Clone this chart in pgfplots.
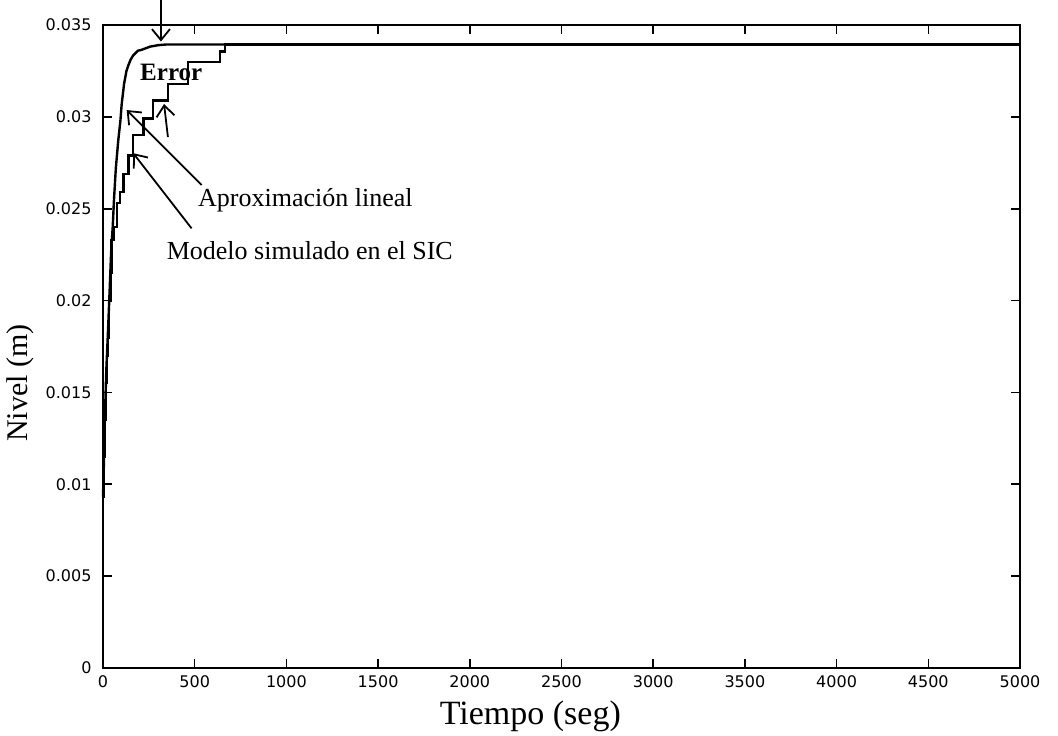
\documentclass[border=0pt]{standalone}
\usepackage{fontspec}
\setmainfont{Liberation Serif}
\newfontfamily\tickfont{DejaVu Sans}
\usepackage{pgfplots}
\pgfplotsset{compat=1.18}
\usetikzlibrary{arrows.meta}

\pgfplotstableread{
t v
0 0.0093
5 0.0112
10 0.0135
18 0.0162
28 0.0185
36 0.0205
45 0.0228
53 0.0240
60 0.0255
70 0.0272
83 0.0287
95 0.0298
102 0.0307
115 0.0318
128 0.0325
138 0.0328
150 0.0331
165 0.03335
190 0.0336
211 0.03365
256 0.03382
300 0.0339
347 0.03394
5000 0.03394
}\aproxlineal

\pgfplotstableread{
t v
0 0.0093
5 0.0115
10 0.0135
16 0.0155
22 0.0170
28 0.0180
34 0.0200
40 0.0215
47 0.0233
60 0.0240
75 0.0253
93 0.0259
111 0.0269
138 0.0279
165 0.0290
220 0.0299
274 0.0309
356 0.0318
465 0.0330
638 0.03355
665 0.03394
5000 0.03394
}\modelosic

\begin{document}
\begin{tikzpicture}
\begin{axis}[
  at={(0pt,0pt)}, anchor=south west,
  scale only axis, width=917pt, height=643pt,
  xmin=0, xmax=5000, ymin=0, ymax=0.035,
  xtick={0,500,1000,1500,2000,2500,3000,3500,4000,4500,5000},
  xticklabels={0,500,1000,1500,2000,2500,3000,3500,4000,4500,5000},
  ytick={0,0.005,0.01,0.015,0.02,0.025,0.03,0.035},
  yticklabels={0,0.005,0.01,0.015,0.02,0.025,0.03,0.035},
  scaled ticks=false,
  tick align=inside, major tick length=9pt,
  tick style={line width=1.6pt, black},
  axis line style={line width=2pt},
  ticklabel style={font=\tickfont\fontsize{16}{16}\selectfont},
  yticklabel style={xshift=-8pt},
  xticklabel style={yshift=-4pt},
  xlabel={Tiempo (seg)}, ylabel={Nivel (m)},
  xlabel style={font=\fontsize{34}{34}\selectfont, at={(axis description cs:0.466,0)}, anchor=base, yshift=-57pt},
  ylabel style={font=\fontsize{30}{30}\selectfont, at={(axis description cs:-0.0905,0.443)}, anchor=center},
  clip=false,
]
\addplot[black, line width=2.4pt] table[x=t,y=v] {\aproxlineal};
\addplot[black, line width=2.4pt, const plot] table[x=t,y=v] {\modelosic};

\draw[line width=1.8pt, -{Straight Barb[length=11pt,width=18pt,line width=1.8pt]}] (axis cs:316,0.03636) -- (axis cs:316,0.0341);
\draw[line width=1.8pt, -{Straight Barb[length=11pt,width=18pt,line width=1.8pt]}] (axis cs:354,0.0289) -- (axis cs:333,0.0307);
\draw[line width=1.8pt, -{Straight Barb[length=11pt,width=18pt,line width=1.8pt]}] (axis cs:538,0.02629) -- (axis cs:129,0.03037);
\draw[line width=1.8pt, -{Straight Barb[length=11pt,width=18pt,line width=1.8pt]}] (axis cs:483,0.02393) -- (axis cs:165,0.02802);

\node[anchor=base west, inner sep=0pt, font=\fontsize{26}{26}\selectfont] at (axis cs:518,0.02511) {Aproximación lineal};
\node[anchor=base west, inner sep=0pt, font=\fontsize{26}{26}\selectfont] at (axis cs:347,0.02221) {Modelo simulado en el SIC};
\node[anchor=base west, inner sep=0pt, font=\bfseries\fontsize{25}{25}\selectfont] at (axis cs:202,0.0320) {Error};
\end{axis}
\pgfresetboundingbox
\path (-103pt,-68pt) rectangle (955pt,668pt);
\end{tikzpicture}
\end{document}
